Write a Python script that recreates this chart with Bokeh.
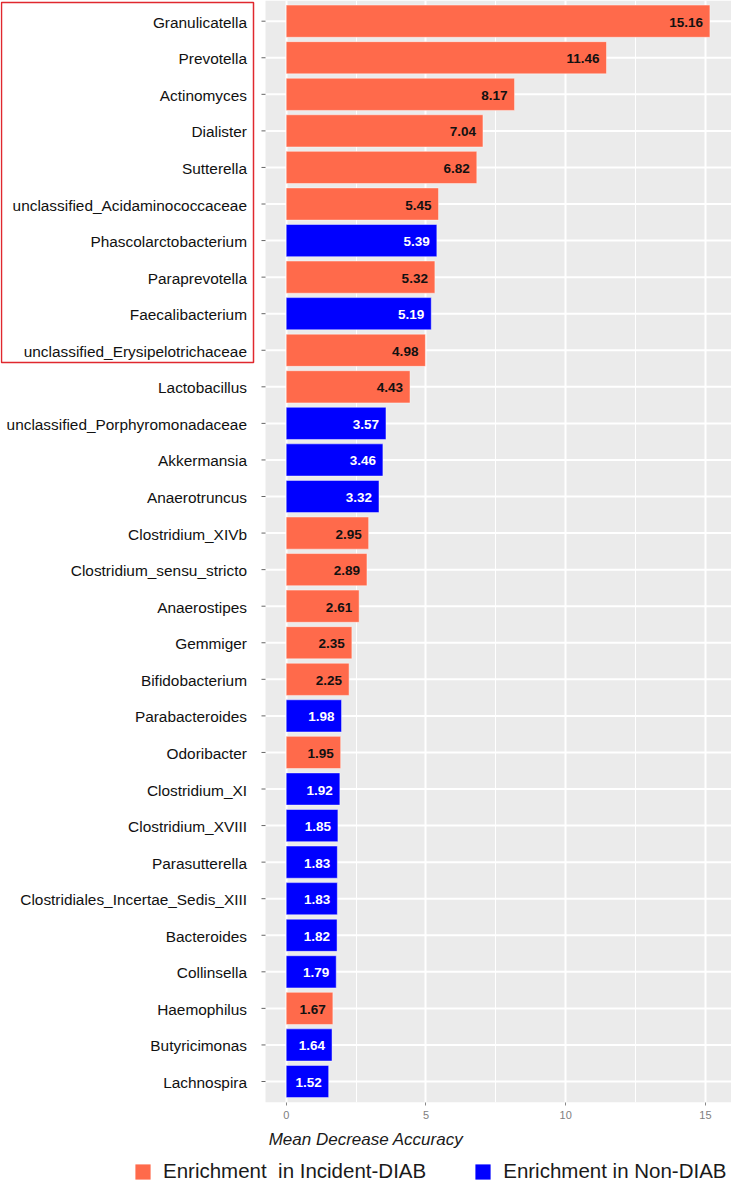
from bokeh.plotting import figure
from bokeh.layouts import column
from bokeh.models import (ColumnDataSource, Range1d, FixedTicker, BoxAnnotation,
                          CDSView, GroupFilter)
from bokeh.core.properties import value
from bokeh.embed import file_html
from bokeh.resources import INLINE

genera = [
    "Granulicatella", "Prevotella", "Actinomyces", "Dialister", "Sutterella",
    "unclassified_Acidaminococcaceae", "Phascolarctobacterium", "Paraprevotella",
    "Faecalibacterium", "unclassified_Erysipelotrichaceae", "Lactobacillus",
    "unclassified_Porphyromonadaceae", "Akkermansia", "Anaerotruncus",
    "Clostridium_XIVb", "Clostridium_sensu_stricto", "Anaerostipes", "Gemmiger",
    "Bifidobacterium", "Parabacteroides", "Odoribacter", "Clostridium_XI",
    "Clostridium_XVIII", "Parasutterella", "Clostridiales_Incertae_Sedis_XIII",
    "Bacteroides", "Collinsella", "Haemophilus", "Butyricimonas", "Lachnospira",
]
mda = [15.16, 11.46, 8.17, 7.04, 6.82, 5.45, 5.39, 5.32, 5.19, 4.98, 4.43,
       3.57, 3.46, 3.32, 2.95, 2.89, 2.61, 2.35, 2.25, 1.98, 1.95, 1.92,
       1.85, 1.83, 1.83, 1.82, 1.79, 1.67, 1.64, 1.52]
group = ["inc", "inc", "inc", "inc", "inc", "inc", "non", "inc", "non", "inc",
         "inc", "non", "non", "non", "inc", "inc", "inc", "inc", "inc", "non",
         "inc", "non", "non", "non", "non", "non", "non", "inc", "non", "non"]
legend_labels = {"inc": "Enrichment  in Incident-DIAB", "non": "Enrichment in Non-DIAB"}
x_ticks = [0, 5, 10, 15]
x_minor = [2.5, 7.5, 12.5]

ORANGE = "#FF6A4B"
BLUE = "#0000FF"
COLORS = {"inc": ORANGE, "non": BLUE}
PANEL_LEFT = -0.741          # left edge of the grey panel (data units)
X_END = 15.932
PX = 27.95                   # pixels per data unit along x

n = len(genera)
ypos = [n - 1 - i for i in range(n)]
src = ColumnDataSource(dict(
    y=ypos, x=mda, g=group, name=genera,
    lab=[f"{v:.2f}" for v in mda],
    tc=["#111111" if g == "inc" else "white" for g in group],
))

p = figure(width=731, height=1151, output_backend="svg", toolbar_location=None,
           x_range=Range1d(-285.7 / PX, X_END), y_range=Range1d(-0.574, n - 1 + 0.566),
           y_axis_location=None,
           min_border_left=0, min_border_right=0, min_border_top=0,
           min_border_bottom=48)
p.background_fill_color = "white"
p.outline_line_color = None

# grey panel background
p.add_layout(BoxAnnotation(left=PANEL_LEFT, fill_color="#EBEBEB", fill_alpha=1,
                           line_color=None, level="image"))

p.xgrid.grid_line_color = "white"
p.xgrid.grid_line_width = 2
p.xgrid.minor_grid_line_color = "white"
p.xgrid.minor_grid_line_width = 1
p.ygrid.visible = False

# horizontal grid lines (inside the panel only)
p.segment(x0=PANEL_LEFT, x1=X_END, y0="y", y1="y", source=src,
          line_color="white", line_width=2, level="underlay")

for key in ("inc", "non"):
    view = CDSView(filter=GroupFilter(column_name="g", group=key))
    p.hbar(y="y", left=0, right="x", height=0.88, source=src, view=view,
           fill_color=COLORS[key], line_color="white", line_alpha=0.45, line_width=1)

p.text(x="x", y="y", text="lab", source=src, text_color="tc",
       text_align="right", text_baseline="middle", x_offset=-7, y_offset=1,
       text_font=value("Liberation Sans"), text_font_style="bold",
       text_font_size="13.5px")

# category labels and tick marks on the left of the panel
p.segment(x0=PANEL_LEFT - 4 / PX, x1=PANEL_LEFT, y0="y", y1="y", source=src,
          line_color="#666666", line_width=1)
p.text(x=PANEL_LEFT, y="y", text="name", source=src, x_offset=-18.5, y_offset=1,
       text_align="right", text_baseline="middle", text_color="#111111",
       text_font=value("Liberation Sans"), text_font_size="15.4px")

# x axis
ax = p.xaxis[0]
ax.ticker = FixedTicker(ticks=x_ticks, minor_ticks=x_minor)
ax.bounds = (PANEL_LEFT, 16.7)
ax.major_label_text_font = "Liberation Sans"
ax.major_label_text_font_size = "11px"
ax.major_label_text_color = "#808080"
ax.major_label_standoff = 4
ax.major_tick_out = 3
ax.major_tick_in = 0
ax.major_tick_line_color = "#888888"
ax.minor_tick_line_color = None
ax.axis_line_color = None
ax.axis_label = "Mean Decrease Accuracy"
ax.axis_label_text_font = "Liberation Sans"
ax.axis_label_text_font_style = "italic"
ax.axis_label_text_font_size = "17px"
ax.axis_label_text_color = "#1a1a1a"
ax.axis_label_standoff = 8

# red highlight box around the top ten labels
p.add_layout(BoxAnnotation(left=1, right=253, top=2, bottom=362,
                           left_units="canvas", right_units="canvas",
                           top_units="canvas", bottom_units="canvas",
                           fill_alpha=0, line_color="#E0282E", line_alpha=1,
                           line_width=1.5))

# legend strip underneath (same bars, ranges chosen so none fall in view)
pl = figure(width=731, height=33, output_backend="svg", toolbar_location=None,
            x_range=Range1d(0, 1), y_range=Range1d(1000, 1001),
            x_axis_location=None, y_axis_location=None,
            min_border_left=0, min_border_right=0, min_border_top=0,
            min_border_bottom=0)
pl.outline_line_color = None
pl.grid.visible = False
for key in ("inc", "non"):
    view = CDSView(filter=GroupFilter(column_name="g", group=key))
    pl.hbar(y="y", left=0, right="x", height=0.88, source=src, view=view,
            fill_color=COLORS[key], line_color=None, legend_label=legend_labels[key])
lg = pl.legend[0]
lg.orientation = "horizontal"
lg.location = (133, 1)
lg.padding = 0
lg.margin = 0
lg.spacing = 47
lg.border_line_color = None
lg.background_fill_alpha = 0
lg.glyph_width = 19
lg.glyph_height = 19
lg.label_standoff = 11
lg.label_height = 20
lg.label_text_font = "Liberation Sans"
lg.label_text_font_size = "20.5px"
lg.label_text_color = "#1a1a1a"

layout = column(p, pl, spacing=0)
open("out.html", "w").write(file_html(layout, INLINE))
